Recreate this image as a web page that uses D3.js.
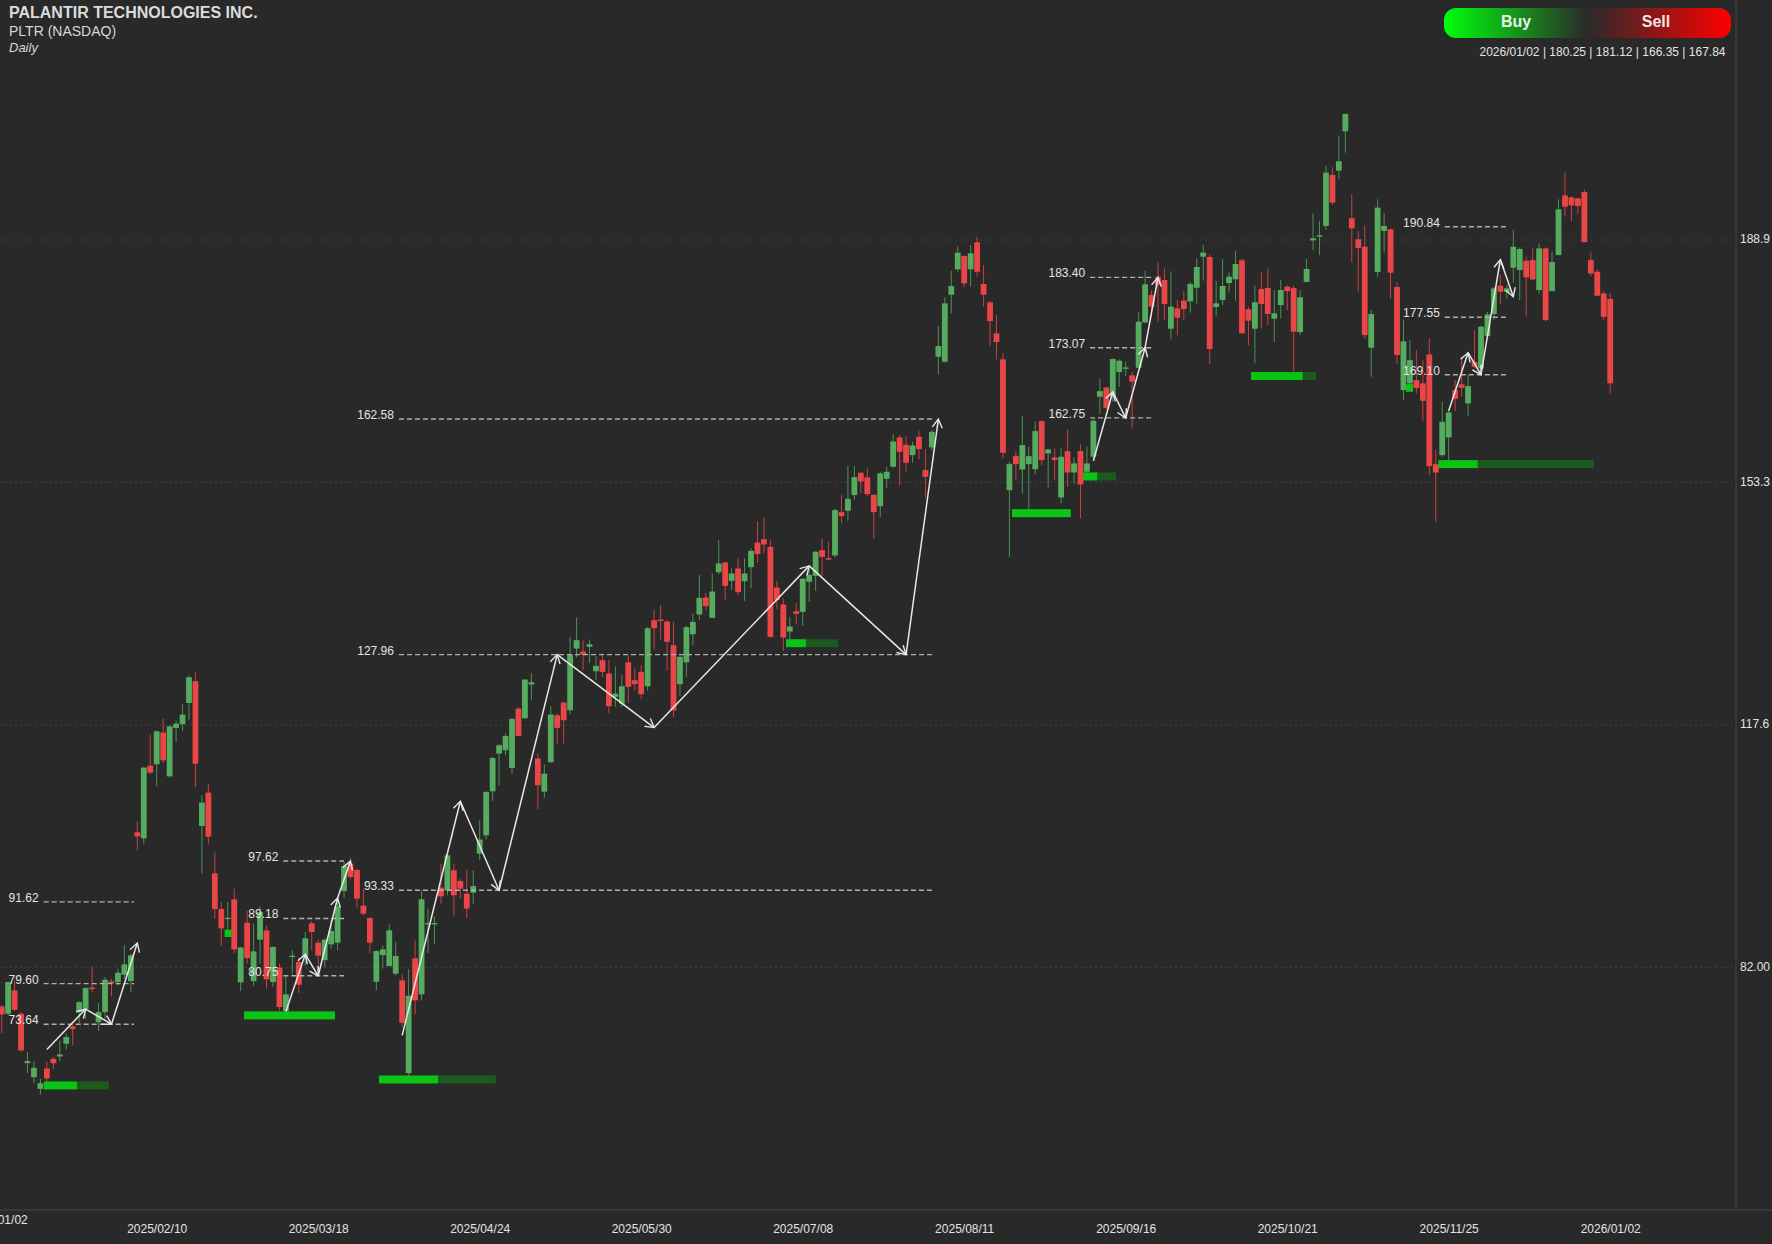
<!DOCTYPE html>
<html lang="en">

<head>
    <meta charset="UTF-8">
    <title>PLTR Daily</title>
    <script src="https://d3js.org/d3.v7.min.js"></script>
    <style>
        html, body { margin: 0; padding: 0; background: #292929; overflow: hidden; }
        svg { display: block; font-family: "Liberation Sans", Arial, sans-serif; }
    </style>
</head>

<body>

    <script>
        // Daily OHLC, one entry per trading bar (2025/01/02 .. 2026/01/02)
        var opens = [
            78.0,76.25,75.17,78.6,75.17,67.91,65.85,64.14,67.13,68.55,
            68.89,70.76,73.31,75.41,75.9,79.04,73.94,75.41,79.92,79.83,
            80.9,79.97,101.84,100.95,111.64,111.84,116.49,110.07,117.18,117.72,
            120.85,124.04,102.77,107.67,95.81,90.56,89.09,91.98,79.78,88.55,
            79.97,86.06,87.43,79.83,81.94,75.57,83.51,82.78,83.51,88.46,
            85.62,83.05,85.37,85.62,93.22,97.24,96.3,91.06,89.25,79.88,
            83.8,82.19,81.06,80.08,66.45,83.31,78.02,88.31,88.31,93.71,
            93.31,96.26,94.69,92.82,92.97,98.71,101.4,107.87,113.41,113.9,
            111.3,120.03,118.61,123.56,112.68,107.82,112.14,119.05,120.91,119.78,
            128.85,128.41,129.1,125.52,127.14,125.18,121.74,120.76,126.84,124.2,
            125.42,123.31,133.02,133.12,132.82,129.34,123.61,126.84,130.96,133.85,
            136.35,133.36,140.08,141.5,138.8,140.62,138.75,140.81,144.44,144.93,
            143.8,137.82,135.32,131.35,134.34,134.24,138.66,139.54,143.31,142.14,
            142.53,148.9,149.1,151.4,154.68,154,151.45,149.78,153.8,155.57,
            159.88,158.8,157.28,159.98,155.08,158.41,171.74,171.01,180.86,184.59,
            186.55,184.59,188.56,182.43,179.73,175.17,171.35,152.13,157.13,155.17,
            155.96,155.22,162.28,157.53,156.94,151.06,157.87,154.73,157.87,154.84,
            157.04,165.86,167.23,165.84,169.49,170.03,169,170.12,176.79,180.81,
            183.51,183.02,175.86,178.85,179.98,179.88,181.89,186.45,186.4,179.05,
            180.08,182.58,183.12,185.91,178.71,175.86,181.7,181.84,177.33,179.34,
            182.04,181.84,175.37,182.73,188.85,189.39,190.96,198.46,199.1,204.88,
            192.09,189,187.92,173.07,184.2,190.23,190.47,181.99,166.84,167.82,
            168.31,167.82,172.08,155.95,157.28,159.88,166.84,167.67,164.88,171,
            170.02,174.78,178.01,182.18,181.3,184.83,184.48,185.86,185.95,181.54,
            187.67,181.4,186.69,195.46,195.17,195.02,195.95,185.95,184.24,181.05,180.25
        ];
        var highs = [
            79.0,76.4,79.9,80.07,75.4,69.53,68.16,65.61,68.16,68.8,
            71.25,72.23,73.45,77.0,79.1,82.13,76.74,80.56,80.3,81.79,
            85.22,84.0,103.45,111.4,116.25,116.8,118.55,117.6,118.31,120.66,
            124.92,125.32,107.28,108.99,98.89,91.59,91.59,93.55,85.0,90.36,
            88.4,90.95,88.17,85.1,82.53,80.67,84.49,83.5,87.19,88.8,
            86.06,86.2,89,92.33,97.48,98.12,96.5,93.56,89.4,84.5,
            85.23,88.31,85.72,80.96,81.7,85.96,93.31,90.62,89.49,97.24,
            98.6,97.24,95.03,96.4,96.26,103.61,107.9,112.9,114.8,116.35,
            118.7,120.2,124.4,125.18,113.41,111.84,120.37,119.3,121,130.57,
            133.41,130.08,130.18,127.7,128.12,127.14,126.25,124.93,127.87,126,
            126.4,132,134.49,135.22,133,132.77,127.8,132.2,134,139.64,
            137.04,139.88,144.78,141.6,140.62,142.09,142.09,143.56,147.58,148.12,
            144.88,138.8,136.2,133.51,135.57,139.2,140.6,143.2,145.03,144.54,
            149.4,151.4,155.67,155.67,154.83,155.32,151.55,154.83,155.57,160.37,
            160.23,160.08,159.24,160.81,158.17,161,176.25,180.47,184.39,187.92,
            186.7,188.16,189.39,185.22,179.9,177.87,172.23,156.3,157.87,163.07,
            158.51,162.18,162.4,158.2,158.26,158.26,161.06,156.94,158.9,158.5,
            162.7,168.46,167.3,171.5,171.35,171.01,169.5,178.26,184.34,181.5,
            185.62,184.74,184.29,180.08,181.4,182.73,186.21,188.17,186.79,182.87,
            186.11,184.15,187.28,186.2,179.1,182.24,184.24,184.74,181.55,183.02,
            182.28,182.14,181.55,186.11,192.82,191.7,199.78,199.59,204.2,207.5,
            195.62,190.27,191.01,178.61,194.88,192.82,190.6,182.68,177.24,174.19,
            172.72,171.25,174.43,158.01,165.12,163.9,168.31,171.8,169.04,175.66,
            176.3,178.36,182,183.75,182.3,190.37,187.8,186.44,187.67,188.41,
            187.8,187.18,194.88,198.85,195.3,195.1,196.3,187.08,184.63,181.4,181.12
        ];
        var lows = [
            75.5,72.33,75.0,75.6,69.63,66.44,64.97,63.31,65.12,66.98,
            68.21,69.87,70.51,73.8,74.43,78.35,72.62,74.19,77.72,79.34,
            80.3,78.35,99.19,100.17,110.36,108.6,112.03,109.87,115.12,116.69,
            118.31,108.5,95.76,100.17,89.14,85.12,87.52,84.09,78.5,82.52,
            79.24,82.53,78.85,79.1,75.57,75.3,81.06,78.22,82.29,84.49,
            81.55,82,84.75,84.49,92.24,94.93,90.77,89.64,84.1,78.61,
            81.8,82.1,80.8,73.2,66.11,75.08,77.14,84.1,85.37,91.35,
            92.58,89.49,92.09,89.25,91.26,97.73,100.81,106.45,108.75,113.17,
            110.47,115.95,118.5,121.25,105.22,106.89,112.1,114.78,114.88,119.2,
            127.53,125.67,126.74,124.2,124.59,119.39,120.27,120.27,120.86,122.72,
            121.4,122.63,128.71,130.18,125.57,118.8,121.84,124.69,129.34,133.03,
            134.49,133.3,139.78,135.96,137.43,136.69,135.86,137.68,141.45,142.82,
            130.45,134.68,128.51,130.08,132.43,132.18,135.71,137.33,139.49,141.85,
            142.23,147.33,147.63,150.76,151.74,151.25,144.98,148.21,152.48,155.45,
            152.87,154.83,156.16,156.65,151.06,157.92,169.14,170.9,178.11,184.24,
            181.94,182.04,183.51,179.09,173.31,171.35,156.79,142.33,153.6,151.64,
            149.29,154.49,155.81,152.53,153.7,150.17,152.62,153.11,147.97,154.6,
            156.55,163.31,164,165.12,167.33,168.9,161.2,170,176.65,177.6,
            176.89,177.14,174.29,174.88,177.14,178.22,179.49,182.92,170.67,177.73,
            179.34,181.16,179.98,175.08,173.41,170.76,175.91,176.4,173.9,177.38,
            178.61,169.54,174.93,182.7,187.43,186.7,190.37,194.05,197.82,201.74,
            185.62,181.3,174.44,168.8,183.51,187.04,180.32,170.67,165.37,167.16,
            166.35,162.33,154.34,147.47,157.03,156.54,163.8,165.86,163.01,170,
            169.9,174.7,177.13,179.48,180.3,182.62,180.07,177.62,183,181.05,
            176.89,181.3,186.6,192.33,191.69,192.72,188.5,183.6,180.6,177.13,166.35
        ];
        var closes = [
            75.8,75.07,79.83,75.76,69.78,68.21,67.23,64.97,65.66,67.91,
            69.19,71.74,72.91,76.88,78.94,78.8,75.41,80.17,79.68,81.2,
            82.42,83.75,101.25,111.35,110.61,116.69,112.42,117.42,117.82,119.14,
            124.63,111.93,106.2,101.2,90.56,87.72,89.29,84.63,84.92,83.35,
            84.34,90.13,80.23,84.98,76.16,78.02,83.71,79.44,86.26,87.19,
            83.71,86.06,87.33,90.96,96.89,95.28,92.09,89.88,85.62,84.39,
            84.64,87.43,83.66,73.85,77.82,77.14,91.99,88.51,88.51,92.43,
            98.46,92.58,93.56,90.62,93.95,100.77,107.77,112.77,114.64,116.01,
            118.51,116.01,124.29,123.9,108.75,110.47,119.15,117.19,118.31,127.97,
            130.08,127.97,129.49,126.3,125.42,120.37,122.23,123.31,123.21,123.61,
            122.14,131.84,131.84,132.92,129.83,119.78,127.63,131.99,132.77,136.3,
            135.08,137.23,141.35,138.07,139.88,137.14,139.88,143.21,142.72,144.15,
            130.57,135.96,130.47,132.09,133.95,139.1,139.68,143.07,142.33,141.94,
            149.19,148.31,150.86,154.05,153.41,151.55,148.9,154.59,154.83,159.29,
            157.77,156.16,158.7,158.17,154.1,160.71,173.31,179.59,182.13,187.04,
            182.53,186.94,184.24,180.86,176.99,173.9,157.62,155.96,155.96,158.75,
            157.13,160.81,156.55,158.11,156.55,157.04,154.73,156.06,152.97,156.06,
            162.33,166.69,164.24,171.4,171.15,170.17,168.07,176.89,182.38,179.09,
            182.29,179.49,179.1,177.48,178.75,182.43,184.93,187.04,172.87,179.59,
            182.14,183.51,185.37,175.18,177.04,179.74,179.49,178.02,178.12,181.55,
            181.4,175.42,180.47,184.64,189.15,189.59,198.8,194.39,200.47,207.43,
            190.62,187.73,174.93,178.02,193.66,190.96,184.1,171.99,174,171.25,
            167.13,165.27,155.66,154.73,162.18,163.55,165.56,167.18,167.42,170.27,
            176.15,177.96,181.79,181.3,181.8,187.91,187.57,183.41,183.11,187.67,
            177.13,185.66,193.41,193.8,193.99,193.9,188.6,183.99,180.71,177.62,167.84
        ];

        // Axis ticks
        var dateBars = [0, 25, 50, 75, 100, 125, 150, 175, 200, 225, 250];
        var dateLabels = ["2025/01/02", "2025/02/10", "2025/03/18", "2025/04/24", "2025/05/30", "2025/07/08",
            "2025/08/11", "2025/09/16", "2025/10/21", "2025/11/25", "2026/01/02"];
        var priceTicks = [188.9, 153.3, 117.6, 82];
        var priceLabels = ["188.9", "153.3", "117.6", "82.00"];

        // Dashed target levels: value, first bar, last bar
        var levelValues = [91.62, 79.60, 73.64, 97.62, 89.18, 80.75, 162.58, 127.96, 93.33, 183.40, 173.07, 162.75, 190.84, 177.55, 169.10];
        var levelFrom = [7.5, 7.5, 7.5, 44.6, 44.6, 44.6, 62.5, 62.5, 62.5, 169.5, 169.5, 169.5, 224.4, 224.4, 224.4];
        var levelTo = [21.5, 21.5, 21.5, 54, 54, 54, 145, 145, 145, 179, 179, 179, 233.9, 233.9, 233.9];

        // Demand zones: first bar, end of the bright part, last bar, price top and bottom
        var zoneFrom = [7.55, 38.5, 59.4, 122.4, 157.4, 168.4, 194.4, 223.4, 35.5, 218.4];
        var zoneMid = [12.66, 52.6, 68.55, 125.5, 166.5, 170.6, 202.4, 229.5, 36.6, 219.5];
        var zoneTo = [17.6, 52.6, 77.5, 130.5, 166.5, 173.5, 204.5, 247.5, 36.6, 219.5];
        var zoneTop = [65.22, 75.52, 66.1, 130.22, 149.34, 154.74, 169.49, 156.55, 87.53, 167.72];
        var zoneBottom = [64.05, 74.34, 64.93, 129.05, 148.16, 153.56, 168.31, 155.37, 86.45, 166.59];

        // Zigzag wave paths
        var waveBars = [
            [8, 14, 18, 22],
            [45, 48, 50, 53, 55],
            [63, 72, 78, 87, 102, 126, 141, 146],
            [170, 173, 175, 178, 180],
            [225, 228, 230, 233, 235]
        ];
        var wavePrices = [
            [69.93, 75.86, 73.64, 85.56],
            [75.5, 83.9, 80.75, 92.18, 97.62],
            [72.0, 106.4, 93.33, 127.96, 117.24, 141.0, 127.96, 162.58],
            [156.44, 166.59, 162.75, 173.07, 183.40],
            [163.8, 172.33, 169.10, 186.0, 180.56]
        ];

        var width = 1772;
        var height = 1244;
        var axisX = 1736;
        var axisY = 1210;

        var bars = d3.range(opens.length);

        var x = d3.scaleLinear().domain([0, 250]).range([-4.8, 1610.2]);
        var y = d3.scaleLinear().domain([82, 188.9]).range([967.3, 240]);

        var svg = d3.select("body")
            .append("svg")
            .attr("width", width)
            .attr("height", height);

        svg.append("rect")
            .attr("width", width)
            .attr("height", height)
            .attr("fill", "#292929");

        var defs = svg.append("defs");

        // Buy / Sell pill gradient
        var grad = defs.append("linearGradient").attr("id", "buySell");
        grad.append("stop").attr("offset", "0%").attr("stop-color", "#00ff0c");
        grad.append("stop").attr("offset", "50%").attr("stop-color", "#2a2a2a");
        grad.append("stop").attr("offset", "100%").attr("stop-color", "#ff0000");

        // Open arrow head for the wave lines
        defs.append("marker")
            .attr("id", "head")
            .attr("markerUnits", "userSpaceOnUse")
            .attr("markerWidth", 14)
            .attr("markerHeight", 14)
            .attr("refX", 10.5)
            .attr("refY", 7)
            .attr("orient", "auto")
            .append("path")
            .attr("d", "M2,2 L10.5,7 L2,12")
            .attr("fill", "none")
            .attr("stroke", "#e8e8e8")
            .attr("stroke-width", 1.4);

        // Grid lines
        svg.append("g").selectAll("line")
            .data(priceTicks)
            .enter().append("line")
            .attr("x1", 0)
            .attr("x2", axisX)
            .attr("y1", d => y(d))
            .attr("y2", d => y(d))
            .attr("stroke", "#434343")
            .attr("stroke-width", 1)
            .attr("stroke-dasharray", "2,3");

        // Frame lines
        svg.append("line").attr("x1", axisX).attr("x2", axisX).attr("y1", 0).attr("y2", axisY)
            .attr("stroke", "#3c3c3c").attr("stroke-width", 1.5);
        svg.append("line").attr("x1", 0).attr("x2", width).attr("y1", axisY).attr("y2", axisY)
            .attr("stroke", "#3c3c3c").attr("stroke-width", 1.5);

        // Candles
        function candleColor(i) { return closes[i] >= opens[i] ? "#55ab5e" : "#ea4648"; }
        function wickColor(i) { return closes[i] >= opens[i] ? "#4a9353" : "#c9403f"; }

        var candles = svg.append("g").selectAll("g")
            .data(bars)
            .enter().append("g");

        candles.append("line")
            .attr("x1", i => x(i))
            .attr("x2", i => x(i))
            .attr("y1", i => y(highs[i]))
            .attr("y2", i => y(lows[i]))
            .attr("stroke", wickColor)
            .attr("stroke-width", 1);

        candles.append("rect")
            .attr("x", i => x(i) - 2.9)
            .attr("width", 5.8)
            .attr("y", i => y(Math.max(opens[i], closes[i])))
            .attr("height", i => Math.max(1.4, Math.abs(y(opens[i]) - y(closes[i]))))
            .attr("fill", candleColor);

        // Demand zones
        var zones = svg.append("g").selectAll("g")
            .data(zoneFrom.map((d, i) => i))
            .enter().append("g");

        zones.append("rect")
            .attr("x", i => x(zoneMid[i]))
            .attr("width", i => x(zoneTo[i]) - x(zoneMid[i]))
            .attr("y", i => y(zoneTop[i]))
            .attr("height", i => y(zoneBottom[i]) - y(zoneTop[i]))
            .attr("fill", "#1b5c1e");

        zones.append("rect")
            .attr("x", i => x(zoneFrom[i]))
            .attr("width", i => x(zoneMid[i]) - x(zoneFrom[i]))
            .attr("y", i => y(zoneTop[i]))
            .attr("height", i => y(zoneBottom[i]) - y(zoneTop[i]))
            .attr("fill", "#0ac416");

        // Target levels and labels
        var levels = svg.append("g").selectAll("g")
            .data(levelValues.map((d, i) => i))
            .enter().append("g");

        levels.append("line")
            .attr("x1", i => x(levelFrom[i]))
            .attr("x2", i => x(levelTo[i]))
            .attr("y1", i => y(levelValues[i]))
            .attr("y2", i => y(levelValues[i]))
            .attr("stroke", "#b0b0b0")
            .attr("stroke-width", 1.4)
            .attr("stroke-dasharray", "5,3");

        levels.append("text")
            .attr("x", i => x(levelFrom[i]) - 5)
            .attr("y", i => y(levelValues[i]))
            .attr("text-anchor", "end")
            .attr("fill", "#e4e4e4")
            .style("font-size", "12px")
            .text(i => levelValues[i].toFixed(2));

        // Zigzag arrows, one segment per leg so each one gets its own head
        waveBars.forEach(function (wave, w) {
            var g = svg.append("g");
            d3.pairs(d3.range(wave.length)).forEach(function (p) {
                g.append("line")
                    .attr("x1", x(wave[p[0]]))
                    .attr("y1", y(wavePrices[w][p[0]]))
                    .attr("x2", x(wave[p[1]]))
                    .attr("y2", y(wavePrices[w][p[1]]))
                    .attr("stroke", "#e8e8e8")
                    .attr("stroke-width", 1.5)
                    .attr("marker-end", "url(#head)");
            });
        });

        // Price axis
        var yAxis = svg.append("g")
            .attr("transform", "translate(" + axisX + ",-1)")
            .call(d3.axisRight(y)
                .tickValues(priceTicks)
                .tickFormat((d, i) => priceLabels[i])
                .tickSize(0)
                .tickPadding(4));
        yAxis.select(".domain").remove();
        yAxis.selectAll("text")
            .attr("fill", "#e4e4e4")
            .style("font-family", "'Liberation Sans', Arial, sans-serif")
            .style("font-size", "12px");

        // Date axis, the first label sits on a higher row
        var xAxis = svg.append("g")
            .attr("transform", "translate(0," + axisY + ")")
            .call(d3.axisBottom(x)
                .tickValues(dateBars)
                .tickFormat((d, i) => dateLabels[i])
                .tickSize(0)
                .tickPadding(14));
        xAxis.select(".domain").remove();
        xAxis.selectAll("text")
            .attr("fill", "#e4e4e4")
            .style("font-family", "'Liberation Sans', Arial, sans-serif")
            .style("font-size", "12px");
        xAxis.selectAll("text")
            .filter((d, i) => i === 0)
            .attr("dx", 2)
            .attr("y", 5);

        // Title block
        svg.append("text").attr("x", 9).attr("y", 18)
            .attr("fill", "#dcdcdc")
            .style("font-size", "16px").style("font-weight", "bold")
            .text("PALANTIR TECHNOLOGIES INC.");
        svg.append("text").attr("x", 9).attr("y", 36)
            .attr("fill", "#d8d8d8")
            .style("font-size", "14px")
            .text("PLTR (NASDAQ)");
        svg.append("text").attr("x", 9).attr("y", 52)
            .attr("fill", "#d8d8d8")
            .style("font-size", "13px").style("font-style", "italic")
            .text("Daily");

        // Buy / Sell pill
        svg.append("rect")
            .attr("x", 1444).attr("y", 8)
            .attr("width", 287).attr("height", 30)
            .attr("rx", 12).attr("ry", 12)
            .attr("fill", "url(#buySell)");
        svg.append("text").attr("x", 1516).attr("y", 27)
            .attr("text-anchor", "middle")
            .attr("fill", "#e8efe8")
            .style("font-size", "16px").style("font-weight", "bold")
            .text("Buy");
        svg.append("text").attr("x", 1656).attr("y", 27)
            .attr("text-anchor", "middle")
            .attr("fill", "#f2e4e4")
            .style("font-size", "16px").style("font-weight", "bold")
            .text("Sell");

        // Last bar readout
        svg.append("text").attr("x", 1725.5).attr("y", 56)
            .attr("text-anchor", "end")
            .attr("fill", "#e4e4e4")
            .style("font-size", "12px")
            .text("2026/01/02 | 180.25 | 181.12 | 166.35 | 167.84");
    </script>

</body>

</html>
